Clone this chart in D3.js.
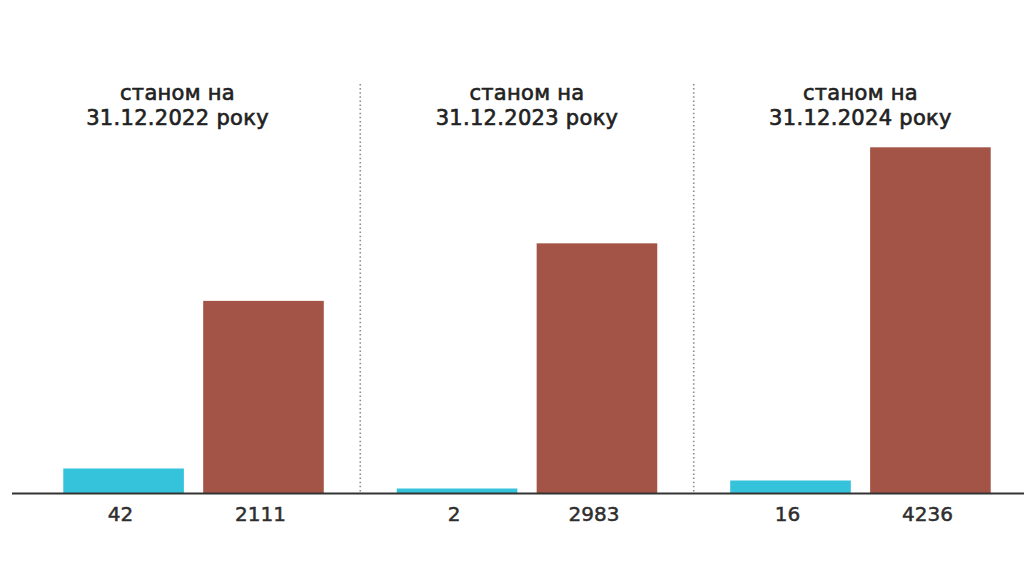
<!DOCTYPE html>
<html>
<head>
<meta charset="utf-8">
<script src="https://cdn.jsdelivr.net/npm/d3@7"></script>
<style>
  html, body { margin: 0; padding: 0; background: #ffffff; }
  svg { display: block; }
</style>
</head>
<body>
<svg id="chart" width="1024" height="576"></svg>
<script>
// ---- data ----
const groupTitlesLine1 = ["станом на", "станом на", "станом на"];
const groupTitlesLine2 = ["31.12.2022 року", "31.12.2023 року", "31.12.2024 року"];
const seriesKeys = ["cyan", "brown"];
// numbers printed under the bars
const cyanLabels = ["42", "2", "16"];
const brownLabels = ["2111", "2983", "4236"];
// bar lengths as drawn in the source graphic (measured, in units of the largest bar, 4236);
// the source does not draw the bars in proportion to the printed numbers
const cyanDrawn = [306, 61, 159];
const brownDrawn = [2357, 3061, 4236];

// ---- layout ----
const W = 1024, H = 576;
const baseY = 493.5, topY = 147.3;
const colors = { cyan: "#34C3DB", brown: "#A35446" };
const font = "'DejaVu Sans', Verdana, sans-serif";

const svg = d3.select("#chart");

const groups = d3.range(groupTitlesLine2.length);
const x0 = d3.scaleBand().domain(groups).range([26.8, 1027.2])
  .paddingInner(0.2188).paddingOuter(0.1094);
const x1 = d3.scaleBand().domain(seriesKeys).range([0, x0.bandwidth()])
  .paddingInner(0.138).paddingOuter(0);
const y = d3.scaleLinear().domain([0, d3.max(brownDrawn)]).range([baseY, topY]);

const rows = groups.map(i => ({
  i,
  bars: [
    { key: "cyan", v: cyanDrawn[i], label: cyanLabels[i] },
    { key: "brown", v: brownDrawn[i], label: brownLabels[i] }
  ]
}));

// dotted dividers between groups
const step = x0.step();
const dividers = groups.slice(1).map(i => x0(i) - (step - x0.bandwidth()) / 2);
svg.selectAll("line.div").data(dividers).join("line")
  .attr("class", "div")
  .attr("x1", d => d).attr("x2", d => d)
  .attr("y1", 84).attr("y2", baseY)
  .attr("stroke", "#8c8c8c").attr("stroke-width", 1.6)
  .attr("stroke-dasharray", "1.5,2.6");

// bars
const g = svg.selectAll("g.grp").data(rows).join("g")
  .attr("class", "grp")
  .attr("transform", d => `translate(${x0(d.i)},0)`);

g.selectAll("rect").data(d => d.bars).join("rect")
  .attr("x", d => x1(d.key))
  .attr("width", x1.bandwidth())
  .attr("y", d => y(d.v))
  .attr("height", d => baseY - y(d.v))
  .attr("fill", d => colors[d.key]);

// value labels
g.selectAll("text.val").data(d => d.bars).join("text")
  .attr("class", "val")
  .attr("x", d => x1(d.key) + x1.bandwidth() / 2 - 3)
  .attr("y", 520.5)
  .attr("text-anchor", "middle")
  .attr("font-family", font)
  .attr("font-size", 20)
  .attr("fill", "#2e2e2e")
  .attr("stroke", "#2e2e2e").attr("stroke-width", 0.5)
  .text(d => d.label);

// titles
const titleX = d => x0.bandwidth() / 2 + (d.i === 0 ? -16 : 0);
[[groupTitlesLine1, 99.5], [groupTitlesLine2, 124.5]].forEach(([arr, ty]) => {
  g.append("text")
    .attr("x", titleX)
    .attr("y", ty)
    .attr("text-anchor", "middle")
    .attr("font-family", font)
    .attr("font-size", 21)
    .attr("letter-spacing", 0.3)
    .attr("fill", "#222")
    .attr("stroke", "#222").attr("stroke-width", 0.65)
    .text(d => arr[d.i]);
});

// baseline axis
svg.append("line")
  .attr("x1", 12).attr("x2", W)
  .attr("y1", baseY).attr("y2", baseY)
  .attr("stroke", "#333").attr("stroke-width", 2);
</script>
</body>
</html>
